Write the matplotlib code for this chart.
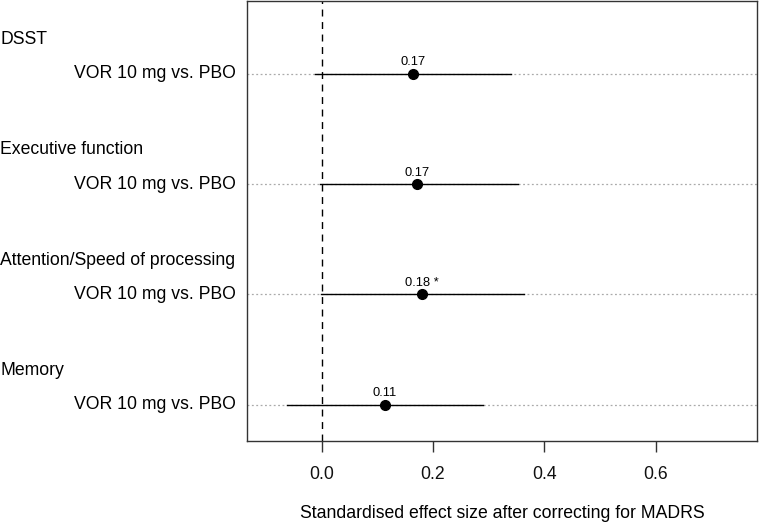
import matplotlib.pyplot as plt

plt.rcParams['font.family'] = ['Liberation Sans', 'DejaVu Sans']

# Data
domains = ['DSST', 'Executive function', 'Attention/Speed of processing', 'Memory']
comparison = 'VOR 10 mg vs. PBO'
estimates = [0.165, 0.172, 0.181, 0.114]
lower = [-0.012, -0.003, -0.001, -0.063]
upper = [0.341, 0.353, 0.364, 0.290]
labels = ['0.17', '0.17', '0.18 *', '0.11']
xticks = [0.0, 0.2, 0.4, 0.6]

fig = plt.figure(figsize=(7.6, 5.26), dpi=100)
ax = fig.add_axes([0.325, 0.1616, 0.671, 0.8364])

ys = [-i for i in range(len(domains))]

for y, est, lo, hi, lab, dom in zip(ys, estimates, lower, upper, labels, domains):
    ax.axhline(y, color='#aaaaaa', lw=0.9, ls=(0, (1.5, 2)), zorder=1)
    ax.plot([lo, hi], [y, y], color='black', lw=1.0, zorder=3)
    ax.plot(est, y, 'o', color='black', ms=7, zorder=4)
    ax.annotate(lab, (est, y), xytext=(0, 4), textcoords='offset points',
                ha='center', va='bottom', fontsize=9.3)
    # group header and comparison label outside the axes
    ax.annotate(dom, xy=(0, y + 0.31), xycoords=('figure fraction', 'data'),
                ha='left', va='center', fontsize=12.7)
    ax.annotate(comparison, xy=(0, y), xycoords=('axes fraction', 'data'),
                xytext=(-8, 0), textcoords='offset points',
                ha='right', va='center', fontsize=12.7)

ax.axvline(0, color='black', lw=1.0, ls=(0, (5, 4)), zorder=2)

ax.set_xlim(-0.134, 0.782)
ax.set_ylim(-3.33, 0.66)
ax.set_yticks([])
ax.set_xticks(xticks)
ax.set_xticklabels(['%.1f' % t for t in xticks])
ax.tick_params(axis='x', length=8, width=1.0, pad=10, labelsize=12.7,
               color='#333333', labelcolor='#111111')
ax.set_xlabel('Standardised effect size after correcting for MADRS', fontsize=12.7, labelpad=16)
for s in ax.spines.values():
    s.set_color('#333333')
    s.set_linewidth(1.0)

fig.savefig('out.png', dpi=100)
